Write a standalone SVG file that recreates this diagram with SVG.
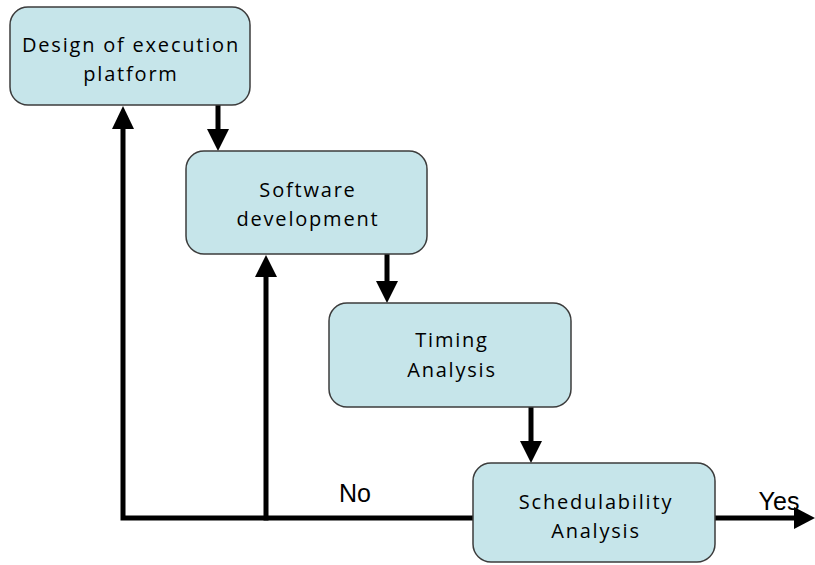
<svg xmlns="http://www.w3.org/2000/svg" width="815" height="565" viewBox="0 0 815 565">
  <style>
    .box { fill: #c6e5ea; stroke: #3c3c3c; stroke-width: 1.5; }
    .lbl { font-family: "Comic Sans MS", "Open Sans", sans-serif; font-size: 20px; letter-spacing: 1.8px; fill: #000; text-anchor: middle; }
    .edge { font-family: "Liberation Sans", Arial, sans-serif; font-size: 25px; fill: #000; text-anchor: middle; }
    .wire { fill: none; stroke: #000; stroke-width: 5; stroke-linecap: square; }
    .head { fill: #000; }
  </style>

  <g id="connectors">
    <!-- forward flow -->
    <line class="wire" x1="218" y1="106" x2="218" y2="130"/>
    <polygon class="head" points="207,129 229,129 218,151"/>
    <line class="wire" x1="387" y1="256" x2="387" y2="282"/>
    <polygon class="head" points="376,281 398,281 387,303"/>
    <line class="wire" x1="531" y1="409" x2="531" y2="442"/>
    <polygon class="head" points="520,441 542,441 531,463"/>
    <!-- "No" feedback loop -->
    <polyline class="wire" points="473,518 123,518 123,128"/>
    <polygon class="head" points="112,129 134,129 123,106"/>
    <line class="wire" x1="266" y1="518" x2="266" y2="276"/>
    <polygon class="head" points="255,277 277,277 266,255"/>
    <!-- "Yes" exit -->
    <line class="wire" x1="715" y1="518" x2="795" y2="518"/>
    <polygon class="head" points="794,507 794,529 815,518"/>
    <text class="edge" x="355" y="502">No</text>
    <text class="edge" x="779" y="510">Yes</text>
  </g>

  <g id="design">
    <rect class="box" x="10" y="7" width="240" height="98" rx="18"/>
    <text class="lbl" x="131" y="52">Design of execution</text>
    <text class="lbl" x="131" y="81">platform</text>
  </g>

  <g id="software">
    <rect class="box" x="186" y="151" width="241" height="103" rx="18"/>
    <text class="lbl" x="308" y="197">Software</text>
    <text class="lbl" x="308" y="226">development</text>
  </g>

  <g id="timing">
    <rect class="box" x="329" y="303" width="242" height="104" rx="18"/>
    <text class="lbl" x="452" y="347">Timing</text>
    <text class="lbl" x="452" y="377">Analysis</text>
  </g>

  <g id="schedulability">
    <rect class="box" x="473" y="463" width="242" height="99" rx="18"/>
    <text class="lbl" x="596" y="509">Schedulability</text>
    <text class="lbl" x="596" y="538">Analysis</text>
  </g>
</svg>
